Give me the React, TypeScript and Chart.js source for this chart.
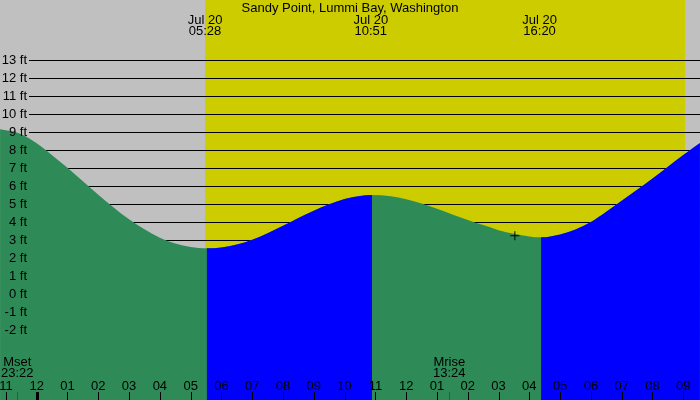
import React, { useEffect, useRef } from "react";
import { Chart, registerables } from "chart.js";

Chart.register(...registerables);

// ---- data (hours relative to midnight Jul 20, heights in feet) ----
const tideHours = [-1.19, -1.0, -0.5, 0, 0.5, 1.0, 1.5, 2.0, 2.5, 3.0, 3.5, 4.0, 4.5, 5.0, 5.52, 6.0, 6.5, 7.0, 7.5, 8.0, 8.5, 9.0, 9.5, 10.0, 10.5, 10.89, 11.5, 12.0, 12.5, 13.0, 13.5, 14.0, 14.5, 15.0, 15.5, 16.0, 16.38, 17.0, 17.5, 18.0, 18.5, 19.0, 19.5, 20.0, 20.5, 21.0, 21.54];
const tideFeet = [9.17, 9.12, 8.9, 8.4, 7.74, 7.04, 6.29, 5.55, 4.84, 4.18, 3.63, 3.16, 2.84, 2.65, 2.57, 2.62, 2.78, 3.05, 3.41, 3.82, 4.25, 4.66, 5.02, 5.31, 5.48, 5.53, 5.46, 5.3, 5.06, 4.77, 4.45, 4.15, 3.86, 3.58, 3.38, 3.23, 3.18, 3.34, 3.62, 4.03, 4.6, 5.21, 5.82, 6.45, 7.1, 7.75, 8.42];
const fallingColor = "#2e8b57";
const risingColor = "#0000ff";

const tideEventHours = [5.467, 10.85, 16.333];
const tideEventDates = ["Jul 20", "Jul 20", "Jul 20"];
const tideEventTimes = ["05:28", "10:51", "16:20"];

const daylight = [5.48, 21.05];

const hourTicks = [-1, 0, 1, 2, 3, 4, 5, 6, 7, 8, 9, 10, 11, 12, 13, 14, 15, 16, 17, 18, 19, 20, 21];
const hourLabels = ["11", "12", "01", "02", "03", "04", "05", "06", "07", "08", "09", "10", "11", "12", "01", "02", "03", "04", "05", "06", "07", "08", "09"];

const feetTicks = [-2, -1, 0, 1, 2, 3, 4, 5, 6, 7, 8, 9, 10, 11, 12, 13];

const moonHours = [-0.633, 13.4];
const moonNames = ["Mset", "Mrise"];
const moonTimes = ["23:22", "13:24"];

const markerHour = 15.53;
const markerFeet = 3.27;

const title = "Sandy Point, Lummi Bay, Washington";

// ---- styles ----
const FONT = "13px 'Liberation Sans', Arial, sans-serif";
const BG = "#c0c0c0";
const DAY = "#cccc00";

const decorPlugin = {
  id: "tideDecor",
  beforeDraw(chart: any) {
    const { ctx, scales } = chart;
    const xs = scales.x;
    const ys = scales.y;
    const W = chart.width;
    const H = chart.height;
    ctx.save();
    ctx.fillStyle = BG;
    ctx.fillRect(0, 0, W, H);
    const x0 = Math.round(xs.getPixelForValue(daylight[0]));
    const x1 = Math.round(xs.getPixelForValue(daylight[1]));
    ctx.fillStyle = DAY;
    ctx.fillRect(x0, 0, x1 - x0, H);
    ctx.fillStyle = "#000";
    for (const f of feetTicks) {
      const py = Math.floor(ys.getPixelForValue(f));
      ctx.fillRect(29, py, W - 29, 1);
    }
    ctx.restore();
  },
  afterDraw(chart: any) {
    const { ctx, scales } = chart;
    const xs = scales.x;
    const ys = scales.y;
    const W = chart.width;
    ctx.save();
    ctx.font = FONT;
    ctx.fillStyle = "#000";
    ctx.textBaseline = "middle";
    ctx.textAlign = "right";
    for (const f of feetTicks) {
      ctx.fillText(`${f} ft`, 27, ys.getPixelForValue(f));
    }
    ctx.textAlign = "center";
    ctx.fillText(title, W / 2, 8);
    tideEventHours.forEach((h, i) => {
      const px = xs.getPixelForValue(h);
      ctx.fillText(tideEventDates[i], px, 20);
      ctx.fillText(tideEventTimes[i], px, 31.5);
    });
    hourTicks.forEach((h, i) => {
      const px = xs.getPixelForValue(h);
      ctx.fillText(hourLabels[i], px, 386);
      if (h === 0) {
        ctx.fillRect(Math.round(px) - 1, 392, 3, 8);
      } else {
        ctx.fillRect(Math.round(px), 392, 1, 8);
      }
    });
    moonHours.forEach((h, i) => {
      const px = xs.getPixelForValue(h);
      ctx.fillStyle = "#000";
      ctx.fillText(moonNames[i], px, 362);
      ctx.fillText(moonTimes[i], px, 373.5);
      ctx.fillStyle = "#ff0000";
      ctx.fillRect(Math.round(px), 392, 1, 8);
    });
    ctx.restore();
  },
};

export default function App() {
  const ref = useRef<HTMLCanvasElement | null>(null);
  useEffect(() => {
    if (!ref.current) return;
    const pts = tideHours.map((h, i) => ({ x: h, y: tideFeet[i] }));
    const common = {
      type: "line",
      data: pts,
      fill: "start",
      borderColor: "rgba(0,0,0,0)",
      borderWidth: 0,
      pointRadius: 0,
      cubicInterpolationMode: "monotone",
    };
    const datasets: any[] = [
      // marker (top)
      {
        type: "line",
        data: [{ x: markerHour, y: markerFeet }],
        showLine: false,
        fill: false,
        pointStyle: "cross",
        pointRadius: 4.5,
        borderColor: "#000",
        borderWidth: 1,
        order: 0,
      },
      // rising (flood) fill, drawn over the base
      {
        ...common,
        backgroundColor: risingColor,
        segment: {
          backgroundColor: (c: any) =>
            tideFeet[c.p1DataIndex] > tideFeet[c.p0DataIndex] ? risingColor : "rgba(0,0,0,0)",
        },
        order: 1,
      },
      // base fill (ebb colour)
      { ...common, backgroundColor: fallingColor, order: 2 },
    ];
    const chart = new Chart(ref.current, {
      type: "line",
      data: { datasets },
      options: {
        responsive: false,
        maintainAspectRatio: false,
        animation: false,
        events: [],
        layout: { padding: 0, autoPadding: false },
        plugins: { legend: { display: false }, tooltip: { enabled: false } },
        scales: {
          x: { type: "linear", display: false, min: -1.192, max: 21.543 },
          y: { type: "linear", display: false, min: -5.84, max: 16.345 },
        },
      },
      plugins: [decorPlugin],
    } as any);
    return () => chart.destroy();
  }, []);
  return (
    <div style={{ position: "absolute", left: 0, top: 0, width: 700, height: 400 }}>
      <canvas ref={ref} width={700} height={400} style={{ display: "block", width: 700, height: 400 }} />
    </div>
  );
}
